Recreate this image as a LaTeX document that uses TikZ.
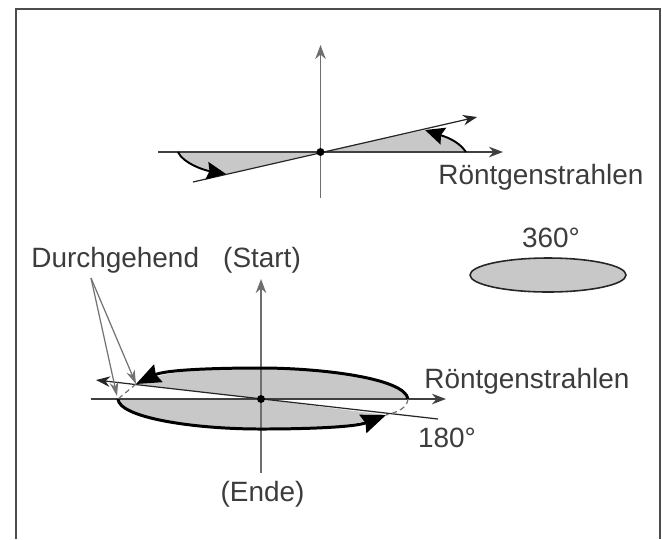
\documentclass[tikz,border=0pt]{standalone}
\usepackage{fontspec}
\setmainfont{Liberation Sans}
\usepackage{xcolor}
\usetikzlibrary{arrows.meta,shapes.geometric}
\definecolor{wedgegray}{HTML}{C8C8C8}
\definecolor{axisgray}{HTML}{6E6E6E}
\definecolor{labelgray}{HTML}{3C3C3C}

\begin{document}
\begin{tikzpicture}[
    x=0.02cm, y=-0.02cm,
    label/.style={text=labelgray, font=\fontsize{15.9}{18}\selectfont, inner sep=0pt},
    origin/.style={circle, fill=black, inner sep=0pt, minimum size=4.5pt},
    vaxis/.style={draw=axisgray, line width=1.1pt},
    haxis/.style={draw=black!75, line width=0.8pt},
    ray/.style={draw=black!85, line width=0.7pt},
    axisarrow/.style={-{Stealth[length=8pt,width=6pt]}},
    sweep/.style={draw=black, line width=1.1pt, -{Stealth[length=11pt,width=10pt,inset=1.5pt]}},
    sweepbold/.style={draw=black, line width=1.7pt, -{Stealth[length=14pt,width=11pt,inset=1.5pt]}},
    wedge/.style={fill=wedgegray, draw=none},
    pointer/.style={draw=black!55, line width=0.7pt, -{Stealth[length=8pt,width=5pt]}},
    hidden/.style={draw=black!55, line width=0.7pt, dash pattern=on 3pt off 2pt}
]
\useasboundingbox (0,0) rectangle (662,539);

% Frame, open at the bottom
\coordinate (frame_bl) at (16,539);
\coordinate (frame_tl) at (16,9);
\coordinate (frame_tr) at (660,9);
\coordinate (frame_br) at (660,539);
\draw[black!70, line width=0.7pt] (frame_bl) -- (frame_tl) -- (frame_tr) -- (frame_br);

% Upper figure
\coordinate (up_o) at (320.5,152);
\coordinate (up_right) at (503,152);
\coordinate (up_left) at (158,152);
\coordinate (up_top) at (320.5,45);
\coordinate (up_bottom) at (320.5,198);
\coordinate (up_ray_a) at (477,117);
\coordinate (up_ray_b) at (193,182);
\coordinate (up_arc_a) at (466,152);
\coordinate (up_arc_b) at (425,130);
\coordinate (up_arc_c) at (178,152);
\coordinate (up_arc_d) at (226,174);

\fill[wedge] (up_o) -- (up_arc_a) .. controls (458,140) and (443,136) .. (up_arc_b) -- cycle;
\fill[wedge] (up_o) -- (up_arc_c) .. controls (183,163) and (203,170) .. (up_arc_d) -- cycle;

\draw[vaxis, axisarrow] (up_bottom) -- (up_top);
\draw[haxis, axisarrow] (up_left) -- (up_right);
\draw[ray, axisarrow] (up_ray_b) -- (up_ray_a);
\draw[sweep] (up_arc_a) .. controls (458,140) and (443,136) .. (up_arc_b);
\draw[sweep] (up_arc_c) .. controls (183,163) and (203,170) .. (up_arc_d);
\node[origin] (up_dot) at (up_o) {};

\node[label, anchor=west] (up_xray) at (438,177) {Röntgenstrahlen};

% Full rotation
\node[ellipse, draw=black!85, fill=wedgegray, line width=0.9pt, minimum width=3.12cm, minimum height=0.68cm, inner sep=0pt] (full) at (548,275) {};
\node[label] (full_angle) at (551,238) {360°};

% Lower figure
\coordinate (lo_o) at (261,399);
\coordinate (lo_right) at (446,399);
\coordinate (lo_left) at (91,399);
\coordinate (lo_top) at (261,279);
\coordinate (lo_bottom) at (261,473);
\coordinate (lo_ray_a) at (96,380);
\coordinate (lo_ray_b) at (438,419);
\coordinate (lo_arc_a) at (408,399);
\coordinate (lo_arc_b) at (136,384);
\coordinate (lo_arc_c) at (118,399);
\coordinate (lo_arc_d) at (386,415);

\fill[wedge] (lo_o) -- (lo_arc_a) .. controls (405,378) and (320,368) .. (261,368) .. controls (210,368) and (165,370) .. (lo_arc_b) -- cycle;
\fill[wedge] (lo_o) -- (lo_arc_c) .. controls (119,417) and (190,429) .. (261,429) .. controls (310,429) and (355,427) .. (lo_arc_d) -- cycle;

\draw[vaxis, axisarrow] (lo_bottom) -- (lo_top);
\draw[haxis, axisarrow] (lo_left) -- (lo_right);
\draw[ray, axisarrow] (lo_ray_b) -- (lo_ray_a);
\draw[sweepbold] (lo_arc_a) .. controls (405,378) and (320,368) .. (261,368) .. controls (210,368) and (165,370) .. (lo_arc_b);
\draw[sweepbold] (lo_arc_c) .. controls (119,417) and (190,429) .. (261,429) .. controls (310,429) and (355,427) .. (lo_arc_d);
\draw[hidden] (lo_arc_b) -- (lo_arc_c);
\draw[hidden] (lo_arc_a) .. controls (407,408) and (398,412) .. (lo_arc_d);
\node[origin] (lo_dot) at (lo_o) {};

% Labels of the lower figure
\node[label, anchor=west] (through) at (31,260) {Durchgehend};
\node[label] (start) at (262,260) {(Start)};
\node[label, anchor=west] (lo_xray) at (424,381) {Röntgenstrahlen};
\node[label] (half_angle) at (447,438) {180°};
\node[label] (stop) at (262.5,494) {(Ende)};

% Pointers
\coordinate (through_o) at (91,278);
\draw[pointer] (through_o) -- (lo_arc_b);
\draw[pointer] (through_o) -- (117,396);

\end{tikzpicture}
\end{document}
